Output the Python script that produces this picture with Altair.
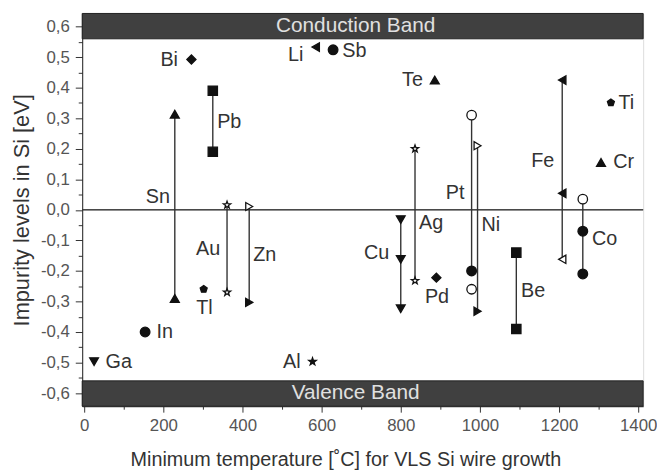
import altair as alt
import pandas as pd

# ---- data ----
pt_elem = ["Ga", "In", "Sn", "Sn", "Bi", "Tl", "Pb", "Pb", "Au", "Au", "Zn", "Zn",
           "Al", "Li", "Sb", "Cu", "Cu", "Cu", "Ag", "Ag", "Te", "Pd",
           "Pt", "Pt", "Pt", "Ni", "Ni", "Be", "Be", "Fe", "Fe", "Fe",
           "Co", "Co", "Co", "Cr", "Ti"]
pt_x = [25, 154, 229, 229, 271, 302, 325, 325, 361, 361, 417, 417,
        577, 585, 629, 800, 800, 800, 836, 836, 886, 890,
        979, 979, 979, 994, 994, 1092, 1092, 1208, 1208, 1208,
        1260, 1260, 1260, 1306, 1331]
pt_y = [-0.497, -0.40, 0.313, -0.29, 0.492, -0.26, 0.39, 0.19, 0.016, -0.27, 0.011, -0.303,
        -0.497, 0.533, 0.524, -0.032, -0.162, -0.324, 0.20, -0.232, 0.425, -0.222,
        0.31, -0.20, -0.26, 0.21, -0.332, -0.14, -0.39, 0.425, 0.054, -0.162,
        0.035, -0.07, -0.21, 0.155, 0.351]
pt_shape = ["tri-down", "circle", "tri-up", "tri-up", "diamond", "pentagon", "square", "square",
            "star", "star", "tri-right", "tri-right", "star", "tri-left", "circle",
            "tri-down", "tri-down", "tri-down", "star", "star", "tri-up", "diamond",
            "circle", "circle", "circle", "tri-right", "tri-right", "square", "square",
            "tri-left", "tri-left", "tri-left", "circle", "circle", "circle", "tri-up", "pentagon"]
pt_filled = [True, True, True, True, True, True, True, True, False, False, False, True,
             True, True, True, True, True, True, False, False, True, True,
             False, True, False, False, True, True, True, True, True, False,
             False, True, True, True, True]

seg_elem = ["Sn", "Pb", "Au", "Zn", "Cu", "Ag", "Pt", "Ni", "Be", "Fe", "Co"]
seg_x = [229, 325, 361, 417, 800, 836, 979, 994, 1092, 1208, 1260]
seg_lo = [-0.29, 0.19, -0.27, -0.303, -0.324, -0.232, -0.20, -0.332, -0.39, -0.162, -0.21]
seg_hi = [0.313, 0.39, 0.016, 0.011, -0.032, 0.20, 0.31, 0.21, -0.14, 0.425, 0.035]

lab_text = ["Ga", "In", "Tl", "Au", "Zn", "Sn", "Al", "Bi", "Pb", "Li", "Sb", "Te",
            "Pt", "Ni", "Ag", "Cu", "Pd", "Be", "Fe", "Ti", "Cr", "Co"]
lab_x = [54, 183, 304, 344, 427, 217, 547, 237, 336, 554, 652, 856,
         961, 1004, 846, 771, 861, 1104, 1188, 1350, 1337, 1283]
lab_y = [-0.497, -0.40, -0.32, -0.13, -0.148, 0.043, -0.497, 0.492, 0.287, 0.508, 0.52, 0.425,
         0.054, -0.051, -0.043, -0.14, -0.286, -0.267, 0.159, 0.351, 0.155, -0.097]
lab_side = ["left", "left", "center", "right", "left", "right", "right", "right", "left",
            "right", "left", "right", "right", "left", "left", "right", "left", "left",
            "right", "left", "left", "left"]

band_name = ["Conduction Band", "Valence Band"]
band_lo = [0.56, -0.643]
band_hi = [0.643, -0.56]
band_mid = [0.601, -0.601]
band_xmid = 686

XDOM = [-5, 1412.5]
YDOM = [-0.643, 0.643]

pts = pd.DataFrame({"elem": pt_elem, "x": pt_x, "y": pt_y, "shape": pt_shape, "filled": pt_filled})
segs = pd.DataFrame({"elem": seg_elem, "x": seg_x, "lo": seg_lo, "hi": seg_hi})
labs = pd.DataFrame({"text": lab_text, "x": lab_x, "y": lab_y, "side": lab_side})
bands = pd.DataFrame({"name": band_name, "lo": band_lo, "hi": band_hi, "mid": band_mid,
                      "x0": XDOM[0], "x1": XDOM[1], "xm": band_xmid})

STAR = "M0,-1L0.235,-0.324L0.951,-0.309L0.380,0.124L0.588,0.809L0,0.4L-0.588,0.809L-0.380,0.124L-0.951,-0.309L-0.235,-0.324Z"
PENT = "M0,-1L0.951,-0.309L0.588,0.809L-0.588,0.809L-0.951,-0.309Z"

FONT = "Liberation Sans"
xscale = alt.Scale(domain=XDOM, nice=False, zero=False)
yscale = alt.Scale(domain=YDOM, nice=False, zero=False)

xticks = list(range(0, 1401, 100))
yticks = [round(-0.6 + 0.05 * i, 2) for i in range(25)]

xaxis = alt.Axis(
    values=xticks, tickCount=100,
    labelExpr="datum.value % 200 == 0 ? format(datum.value, 'd') : ''",
    tickSize={"condition": {"test": "datum.value % 200 == 0", "value": 6}, "value": 3},
    grid=False, labelFont=FONT, labelFontSize=17, labelColor="#555", labelPadding=6,
    labelOverlap=False, labelFlush=False,
    tickColor="#333", domainColor="#222",
    title="Minimum temperature [\u02daC] for VLS Si wire growth",
    titleFont=FONT, titleFontSize=20, titleFontWeight="normal", titleColor="#333",
    titleX=266, titleY=54, titleAlign="center", titleBaseline="middle",
)
yaxis = alt.Axis(
    values=yticks, tickCount=100,
    labelExpr="abs(round(datum.value*10) - datum.value*10) < 0.001 ? (datum.value < -0.001 ? '-' : '') + replace(format(abs(datum.value), '.1f'), '.', ',') : ''",
    tickSize={"condition": {"test": "abs(round(datum.value*10) - datum.value*10) < 0.001", "value": 7}, "value": 4},
    grid=False, labelFont=FONT, labelFontSize=17, labelColor="#555", labelPadding=6,
    labelOverlap=False, labelFlush=False,
    tickColor="#333", domainColor="#222",
    title="Impurity levels in Si [eV]",
    titleFont=FONT, titleFontSize=22, titleFontWeight="normal", titleColor="#333",
    titleX=-61, titleBaseline="middle",
)

band_rect = alt.Chart(bands).mark_rect(color="#404040", stroke="#222", strokeWidth=1).encode(
    x=alt.X("x0:Q", scale=xscale, axis=xaxis), x2="x1:Q",
    y=alt.Y("lo:Q", scale=yscale, axis=yaxis), y2="hi:Q",
)
band_text = alt.Chart(bands).mark_text(font=FONT, fontSize=21, color="#e0e0e0").encode(
    x=alt.X("xm:Q", scale=xscale), y=alt.Y("mid:Q", scale=yscale), text="name:N"
)
zero = alt.Chart(bands).mark_rule(color="#333", strokeWidth=1).encode(
    y=alt.datum(0, scale=yscale)
)
rules = alt.Chart(segs).mark_rule(color="#333", strokeWidth=1.4).encode(
    x=alt.X("x:Q", scale=xscale), y=alt.Y("lo:Q", scale=yscale), y2="hi:Q"
)

KINDS = ["circle", "circle-open", "square", "diamond", "tri-up", "tri-down", "tri-left",
         "tri-left-open", "tri-right", "tri-right-open", "star", "star-open", "pentagon"]
KSIZE = [95, 55, 85, 150, 150, 120, 115, 105, 115, 105, 150, 160, 220]

points = alt.Chart(pts).transform_calculate(
    kind="datum.shape + (datum.filled ? '' : '-open')"
).mark_point(strokeWidth=1.3, stroke="#111", opacity=1).encode(
    x=alt.X("x:Q", scale=xscale),
    y=alt.Y("y:Q", scale=yscale),
    shape=alt.Shape("shape:N", legend=None, scale=alt.Scale(
        domain=["circle", "square", "diamond", "tri-up", "tri-down", "tri-left", "tri-right", "star", "pentagon"],
        range=["circle", "square", "diamond", "triangle-up", "triangle-down", "triangle-left", "triangle-right", STAR, PENT])),
    size=alt.Size("kind:N", legend=None, scale=alt.Scale(domain=KINDS, range=KSIZE)),
    fill=alt.condition("datum.filled", alt.value("#111"), alt.value("white")),
)

def label_layer(side):
    return alt.Chart(labs).transform_filter(alt.datum.side == side).mark_text(
        font=FONT, fontSize=20, color="#333", align=side, baseline="middle"
    ).encode(x=alt.X("x:Q", scale=xscale), y=alt.Y("y:Q", scale=yscale), text="text:N")

chart = alt.layer(
    band_rect, zero, rules, points, band_text,
    label_layer("left"), label_layer("right"), label_layer("center"),
).properties(
    width=567, height=397,
    autosize=alt.AutoSizeParams(type="none"),
    padding={"left": 75, "top": 3, "right": 14, "bottom": 67},
).configure_view(stroke="#222", strokeWidth=1.2).configure_axis(
    labelOverlap=False
).configure(background="white")

chart.save("out.html", embed_options={"renderer": "svg", "actions": False})
